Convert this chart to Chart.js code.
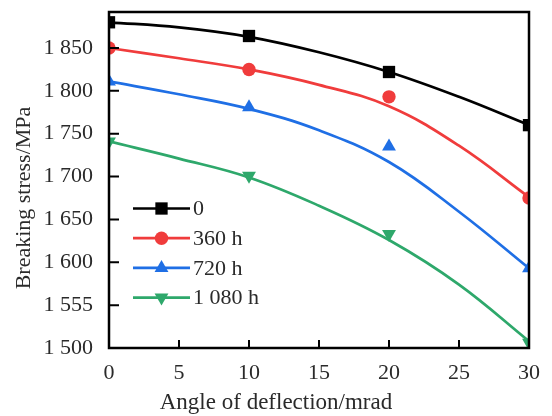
<!DOCTYPE html>
<html><head><meta charset="utf-8">
<script src="https://cdn.jsdelivr.net/npm/chart.js@4"></script>
<style>html,body{margin:0;padding:0;background:#fff}canvas{display:block}</style>
</head><body>
<canvas id="c" width="552" height="416"></canvas>
<script>
// ---- data ----
const angles = [0, 10, 20, 30];
const fitAngles = [0, 5, 10, 15, 20, 25, 30];
const seriesNames = ['0', '360 h', '720 h', '1 080 h'];
const stress0h = [1880, 1864, 1822, 1760];
const stress360h = [1850, 1825, 1793, 1675];
const stress720h = [1811, 1781, 1735, 1593];
const stress1080h = [1741, 1701, 1633, 1506];
const fit0h = [1880, 1874, 1863, 1845, 1822, 1793, 1760];
const fit360h = [1850, 1838, 1825, 1807, 1782, 1736, 1676];
const fit720h = [1811, 1796, 1779, 1754, 1717, 1659, 1593];
const fit1080h = [1741, 1721, 1699, 1666, 1626, 1574, 1508];
const xTickValues = [0, 5, 10, 15, 20, 25, 30];
const yTickValues = [1500, 1550, 1600, 1650, 1700, 1750, 1800, 1850];
const yTickLabels = ['1 500', '1 555', '1 600', '1 650', '1 700', '1 750', '1 800', '1 850'];
const xTitle = 'Angle of deflection/mrad';
const yTitle = 'Breaking stress/MPa';

// ---- styles ----
const FONT = '"Liberation Serif", "Times New Roman", serif';
const TEXT = '#2a2a2a';
const colors = ['#000000', '#f03c3c', '#1f6fe5', '#2ea86b'];
const pStyles = ['rect', 'circle', 'triangle', 'triangle'];
const pRot = [0, 0, 0, 180];
const pRad = [8.7, 6.7, 8, 8];

const pointSeries = [stress0h, stress360h, stress720h, stress1080h];
const fitSeries = [fit0h, fit360h, fit720h, fit1080h];

const datasets = [];
pointSeries.forEach((vals, i) => {
  datasets.push({
    label: seriesNames[i],
    data: angles.map((a, k) => ({x: a, y: vals[k]})),
    showLine: false,
    pointStyle: pStyles[i], rotation: pRot[i], pointRadius: pRad[i],
    backgroundColor: colors[i], borderColor: colors[i], borderWidth: 0,
    clip: 0, order: 0
  });
});
fitSeries.forEach((vals, i) => {
  datasets.push({
    label: seriesNames[i] + ' fit',
    data: fitAngles.map((a, k) => ({x: a, y: vals[k]})),
    borderColor: colors[i], borderWidth: 2.7, pointRadius: 0,
    tension: 0.4, fill: false,
    clip: 0, order: 1
  });
});

function drawMarker(ctx, style, x, y, r, rot, color) {
  ctx.save();
  ctx.fillStyle = color;
  ctx.translate(x, y);
  ctx.rotate(rot * Math.PI / 180);
  ctx.beginPath();
  if (style === 'rect') {
    const s = Math.SQRT1_2 * r;
    ctx.rect(-s, -s, 2 * s, 2 * s);
  } else if (style === 'circle') {
    ctx.arc(0, 0, r, 0, Math.PI * 2);
  } else {
    for (let k = 0; k < 3; k++) {
      const ang = -Math.PI / 2 + k * 2 * Math.PI / 3;
      const px = r * Math.cos(ang), py = r * Math.sin(ang);
      if (k === 0) ctx.moveTo(px, py); else ctx.lineTo(px, py);
    }
    ctx.closePath();
  }
  ctx.fill();
  ctx.restore();
}

const framePlugin = {
  id: 'frame',
  afterDraw(chart) {
    const {ctx, chartArea: a, scales} = chart;
    ctx.save();
    ctx.strokeStyle = '#000';
    ctx.lineWidth = 2.5;
    ctx.strokeRect(a.left, a.top, a.right - a.left, a.bottom - a.top);
    ctx.lineWidth = 2;
    ctx.beginPath();
    xTickValues.forEach(v => {
      const px = scales.x.getPixelForValue(v);
      ctx.moveTo(px, a.bottom); ctx.lineTo(px, a.bottom - 8);
    });
    yTickValues.forEach(v => {
      const py = scales.y.getPixelForValue(v);
      ctx.moveTo(a.left, py); ctx.lineTo(a.left + 10, py);
    });
    ctx.stroke();

    // legend
    ctx.font = '22px ' + FONT;
    ctx.textBaseline = 'middle';
    ctx.textAlign = 'left';
    seriesNames.forEach((name, i) => {
      const y = a.top + 196.5 + i * 29.7;
      const x0 = a.left + 24, x1 = a.left + 81;
      ctx.strokeStyle = colors[i];
      ctx.lineWidth = 2.7;
      ctx.beginPath(); ctx.moveTo(x0, y); ctx.lineTo(x1, y); ctx.stroke();
      drawMarker(ctx, pStyles[i], (x0 + x1) / 2, y, pRad[i], pRot[i], colors[i]);
      ctx.fillStyle = TEXT;
      ctx.fillText(name, x1 + 3, y + 1);
    });

    // axis titles
    ctx.fillStyle = TEXT;
    ctx.font = '23px ' + FONT;
    ctx.textAlign = 'center';
    ctx.fillText(xTitle, a.left + 167, 403);
    ctx.font = '22px ' + FONT;
    ctx.save();
    ctx.translate(24, 198);
    ctx.rotate(-Math.PI / 2);
    ctx.fillText(yTitle, 0, 0);
    ctx.restore();
    ctx.restore();
  }
};

new Chart(document.getElementById('c'), {
  type: 'line',
  data: {datasets},
  options: {
    responsive: false,
    animation: false,
    devicePixelRatio: 1,
    layout: {padding: {top: 12, right: 23, left: 0, bottom: 0}},
    plugins: {legend: {display: false}, tooltip: {enabled: false}},
    scales: {
      x: {
        type: 'linear', min: 0, max: 30,
        afterBuildTicks: s => { s.ticks = xTickValues.map(v => ({value: v})); },
        afterFit: s => { s.height = 68; s.paddingLeft = 0; s.paddingRight = 0; },
        grid: {display: false}, border: {display: false},
        ticks: {font: {family: FONT, size: 22}, color: TEXT, padding: 4, maxRotation: 0, autoSkip: false}
      },
      y: {
        type: 'linear', min: 1500, max: 1892,
        afterBuildTicks: s => { s.ticks = yTickValues.map(v => ({value: v})); },
        afterFit: s => { s.width = 109; s.paddingTop = 0; s.paddingBottom = 0; },
        grid: {display: false}, border: {display: false},
        ticks: {
          font: {family: FONT, size: 22}, color: TEXT, padding: 8, autoSkip: false,
          callback: v => yTickLabels[yTickValues.indexOf(v)]
        }
      }
    }
  },
  plugins: [framePlugin]
});
</script>
</body></html>
